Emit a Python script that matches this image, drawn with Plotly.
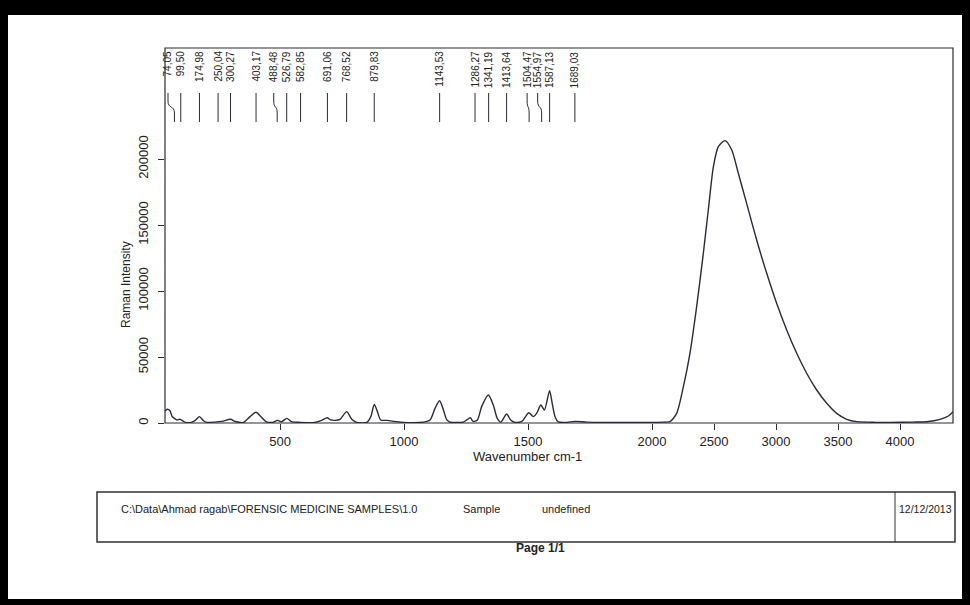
import plotly.graph_objects as go

# ---------------- data ----------------
wavenumber_low = [36, 45, 56, 65, 74, 85, 95, 109, 118, 138, 158, 175, 191, 205, 238, 265, 300, 320, 353,
                  379, 403, 423, 443, 470, 490, 506, 527, 546, 581, 634, 668, 690, 704, 722, 742, 769, 789,
                  809, 850, 866, 880, 892, 906, 933, 957, 997, 1078, 1105, 1125, 1143, 1158, 1172, 1185,
                  1239, 1253, 1267, 1279, 1296, 1313, 1340, 1360, 1376, 1390, 1414, 1430, 1448, 1475, 1503,
                  1521, 1535, 1552, 1566, 1587, 1597, 1609, 1622, 1656, 1689, 1737, 1800, 1900, 2000]
intensity_low = [9000, 10400, 9300, 4800, 3500, 2300, 2800, 1500, 500, 300, 2000, 4800, 1700, 500, 700, 1200,
                 2800, 1100, 500, 4800, 8100, 4800, 1100, 500, 2000, 900, 3500, 1100, 500, 300, 2000, 4000,
                 2300, 2000, 2800, 8600, 2800, 500, 500, 4800, 14100, 9000, 2300, 2000, 1200, 500, 700, 2300,
                 11100, 16800, 10500, 2500, 700, 700, 2300, 4000, 1200, 2300, 12400, 21200, 13600, 3500, 700,
                 6800, 2300, 500, 1200, 7800, 4800, 7500, 13600, 9800, 24500, 15500, 4800, 900, 500, 1200,
                 700, 500, 400, 500]

wavenumber_high = [2000, 2100, 2145, 2199, 2253, 2306, 2360, 2414, 2454, 2495, 2535, 2589, 2643, 2696, 2763,
                   2844, 2925, 3005, 3086, 3167, 3247, 3328, 3409, 3489, 3570, 3651, 3800, 3919, 4100, 4215,
                   4323, 4390, 4427]
intensity_high = [500, 700, 1000, 7300, 27500, 52800, 88100, 128600, 161400, 194200, 209300, 213900, 206800,
                  189200, 166400, 138600, 113400, 90700, 70500, 52800, 37700, 25000, 14900, 7300, 2800, 1000,
                  500, 500, 700, 1000, 2800, 5300, 8600]

peak_positions = [74.05, 99.50, 174.98, 250.04, 300.27, 403.17, 488.48, 526.79, 582.85, 691.06, 768.52,
                  879.83, 1143.53, 1286.27, 1341.19, 1413.64, 1504.47, 1554.97, 1587.13, 1689.03]
peak_labels = ["74,05", "99,50", "174,98", "250,04", "300,27", "403,17", "488,48", "526,79", "582,85",
               "691,06", "768,52", "879,83", "1143,53", "1286,27", "1341,19", "1413,64", "1504,47",
               "1554,97", "1587,13", "1689,03"]

x_ticks_low = [500, 1000, 1500]
x_ticks_high = [2000, 2500, 3000, 3500, 4000]
y_ticks = [0, 50000, 100000, 150000, 200000]

# ---------------- layout helpers ----------------
W, H = 970, 605
L, R, T, B = 165, 17, 48, 182
PW, PH = W - L - R, H - T - B


def px(xp):
    return (xp - L) / PW


def py(yp):
    return (H - B - yp) / PH


INK = "#2b2b38"
FONT = "Liberation Sans, Arial, sans-serif"
split = px(652)

fig = go.Figure()
fig.add_trace(go.Scatter(x=wavenumber_low, y=intensity_low, mode="lines", xaxis="x", yaxis="y",
                         line=dict(color=INK, width=1.4, shape="spline", smoothing=0.7),
                         showlegend=False, hoverinfo="skip"))
fig.add_trace(go.Scatter(x=wavenumber_high, y=intensity_high, mode="lines", xaxis="x2", yaxis="y",
                         line=dict(color=INK, width=1.4, shape="spline", smoothing=0.7),
                         showlegend=False, hoverinfo="skip"))

axis_common = dict(showgrid=False, zeroline=False, showline=False, ticks="outside", ticklen=6,
                   tickwidth=1, tickcolor=INK, tickfont=dict(family=FONT, size=13, color="#222"))

fig.update_layout(
    width=W, height=H,
    margin=dict(l=L, r=R, t=T, b=B),
    paper_bgcolor="white", plot_bgcolor="white",
    xaxis=dict(domain=[0, split], range=[36, 2000], tickvals=x_ticks_low,
               ticktext=[str(v) for v in x_ticks_low], anchor="y", **axis_common),
    xaxis2=dict(domain=[split, 1], range=[2000, 4427], tickvals=x_ticks_high,
                ticktext=[str(v) for v in x_ticks_high], anchor="y", **axis_common),
    yaxis=dict(range=[0, 284100], tickvals=y_ticks, ticktext=[str(v) for v in y_ticks],
               tickangle=-90, anchor="x", ticklabelstandoff=5, **axis_common),
)

shapes = []
# plot frame
shapes.append(dict(type="rect", xref="paper", yref="paper", x0=0, x1=1, y0=0, y1=1,
                   line=dict(color=INK, width=1.2)))

# peak marker lines
nudges = {74.05: -26, 488.48: -14, 1504.47: -8, 1554.97: -16}
y_top, y_bot = py(93), py(122)
annotations = []
for pos, lab in zip(peak_positions, peak_labels):
    lx = pos + nudges.get(pos, 0)
    if lx != pos:
        path = (f"M {lx},{y_top} L {lx},{py(101)} C {lx},{py(109)} {pos},{py(105)} {pos},{py(113)} "
                f"L {pos},{y_bot}")
        shapes.append(dict(type="path", xref="x", yref="paper", path=path,
                           line=dict(color=INK, width=1)))
    else:
        shapes.append(dict(type="line", xref="x", yref="paper", x0=pos, x1=pos, y0=y_top, y1=y_bot,
                           line=dict(color=INK, width=1)))
    annotations.append(dict(text=lab, xref="x", yref="paper", x=lx, y=py(50), textangle=-90,
                            xanchor="center", yanchor="top", showarrow=False, borderpad=0,
                            font=dict(family=FONT, size=10, color="#222")))

# axis titles
annotations.append(dict(text="Wavenumber cm-1", xref="paper", yref="paper", x=px(527), y=py(466),
                        showarrow=False, font=dict(family=FONT, size=13, color="#222")))
annotations.append(dict(text="Raman Intensity", xref="paper", yref="paper", x=px(117), y=py(285),
                        textangle=-90, showarrow=False, font=dict(family=FONT, size=12, color="#222")))

# footer box
shapes.append(dict(type="rect", xref="paper", yref="paper", x0=px(97), x1=px(955), y0=py(542), y1=py(492),
                   line=dict(color="#333", width=1.5)))
shapes.append(dict(type="line", xref="paper", yref="paper", x0=px(895), x1=px(895), y0=py(542), y1=py(492),
                   line=dict(color="#333", width=1)))
foot_font = dict(family=FONT, size=11, color="#222")
annotations += [
    dict(text="C:\\Data\\Ahmad ragab\\FORENSIC MEDICINE SAMPLES\\1.0", xref="paper", yref="paper",
         x=px(119), y=py(517), xanchor="left", showarrow=False, font=foot_font),
    dict(text="Sample", xref="paper", yref="paper", x=px(461), y=py(517), xanchor="left",
         showarrow=False, font=foot_font),
    dict(text="undefined", xref="paper", yref="paper", x=px(540), y=py(517), xanchor="left",
         showarrow=False, font=foot_font),
    dict(text="12/12/2013", xref="paper", yref="paper", x=px(925), y=py(517), xanchor="center",
         showarrow=False, font=dict(family=FONT, size=10.5, color="#222")),
    dict(text="<b>Page 1/1</b>", xref="paper", yref="paper", x=px(540), y=py(557), xanchor="center",
         showarrow=False, font=dict(family=FONT, size=12, color="#222")),
]

# black scan border
for x0, y0, x1, y1 in [(0, 0, W, 15), (0, 0, 8, H), (962, 0, W, H), (0, 599, W, H)]:
    shapes.append(dict(type="rect", xref="paper", yref="paper", x0=px(x0), x1=px(x1), y0=py(y1), y1=py(y0),
                       fillcolor="black", line=dict(width=0), layer="above"))

fig.update_layout(shapes=shapes, annotations=annotations)
fig.write_html("out.html")
